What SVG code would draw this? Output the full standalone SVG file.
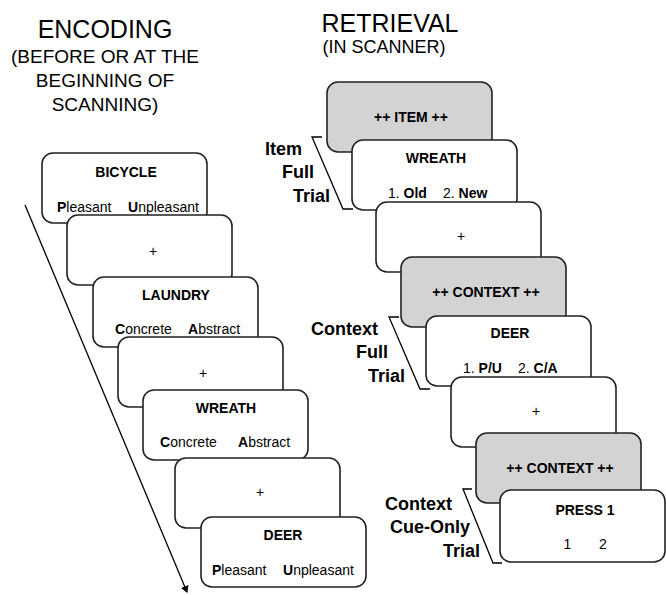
<svg xmlns="http://www.w3.org/2000/svg" width="666" height="595" viewBox="0 0 666 595">
<style>
text{font-family:"Liberation Sans",Arial,sans-serif;fill:#000}
.card{fill:#fff;stroke:#222;stroke-width:1.6}
.gray{fill:#d3d3d3;stroke:#222;stroke-width:1.6}
.t{font-size:14px;font-weight:bold;text-anchor:middle}
.o{font-size:14px}
.b{font-weight:bold}
.plus{font-size:14px;text-anchor:middle}
.h1{font-size:25px;text-anchor:middle}
.h2{font-size:19px;text-anchor:middle}
.lab{font-size:18px;font-weight:bold;text-anchor:end}
.br{fill:none;stroke:#000;stroke-width:1.3}
</style>
<defs>
<marker id="ah" markerWidth="8" markerHeight="8" refX="6" refY="4" orient="auto" markerUnits="userSpaceOnUse">
<path d="M0,0 L7,4 L0,8 z" fill="#000"/>
</marker>
</defs>

<g id="titles">
<text class="h1" x="105" y="38">ENCODING</text>
<text class="h2" x="105" y="63">(BEFORE OR AT THE</text>
<text class="h2" x="105" y="87">BEGINNING OF</text>
<text class="h2" x="105" y="111">SCANNING)</text>
<text class="h1" x="390" y="32">RETRIEVAL</text>
<text class="h2" x="384" y="53" style="font-size:18px">(IN SCANNER)</text>
</g>

<g id="connectors">
<line x1="25" y1="205" x2="187" y2="592" stroke="#000" stroke-width="1.3" marker-end="url(#ah)"/>
<polyline class="br" points="322,137 312,137 343,209 353,209"/>
<polyline class="br" points="399,317 389,317 420,389 430,389"/>
<polyline class="br" points="472,489 463,489 493,563 502,563"/>
</g>

<g id="labels">
<text class="lab" x="302" y="155">Item</text>
<text class="lab" x="314" y="178">Full</text>
<text class="lab" x="330" y="202">Trial</text>
<text class="lab" x="378" y="335">Context</text>
<text class="lab" x="388" y="358">Full</text>
<text class="lab" x="405" y="382">Trial</text>
<text class="lab" x="452" y="510">Context</text>
<text class="lab" x="470" y="533">Cue-Only</text>
<text class="lab" x="480" y="557">Trial</text>
</g>

<g id="enc-bicycle">
<rect class="card" x="42" y="153" width="165" height="70" rx="11"/>
<text class="t" x="126" y="177">BICYCLE</text>
<text class="o" x="57" y="212"><tspan class="b">P</tspan>leasant</text>
<text class="o" x="128" y="212"><tspan class="b">U</tspan>npleasant</text>
</g>
<g id="enc-fix1">
<rect class="card" x="67" y="215" width="165" height="70" rx="11"/>
<text class="plus" x="153" y="256">+</text>
</g>
<g id="enc-laundry">
<rect class="card" x="93" y="277" width="165" height="70" rx="11"/>
<text class="t" x="176" y="300">LAUNDRY</text>
<text class="o" x="115" y="334"><tspan class="b">C</tspan>oncrete</text>
<text class="o" x="188" y="334"><tspan class="b">A</tspan>bstract</text>
</g>
<g id="enc-fix2">
<rect class="card" x="118" y="337" width="165" height="70" rx="11"/>
<text class="plus" x="203" y="378">+</text>
</g>
<g id="enc-wreath">
<rect class="card" x="143" y="390" width="165" height="70" rx="11"/>
<text class="t" x="226" y="413">WREATH</text>
<text class="o" x="160" y="447"><tspan class="b">C</tspan>oncrete</text>
<text class="o" x="238" y="447"><tspan class="b">A</tspan>bstract</text>
</g>
<g id="enc-fix3">
<rect class="card" x="175" y="458" width="165" height="70" rx="11"/>
<text class="plus" x="260" y="497">+</text>
</g>
<g id="enc-deer">
<rect class="card" x="201" y="517" width="165" height="70" rx="11"/>
<text class="t" x="283" y="540">DEER</text>
<text class="o" x="212" y="575"><tspan class="b">P</tspan>leasant</text>
<text class="o" x="283" y="575"><tspan class="b">U</tspan>npleasant</text>
</g>

<g id="ret-item-cue">
<rect class="gray" x="327" y="82" width="165" height="70" rx="11"/>
<text class="t" x="411" y="122">++ ITEM ++</text>
</g>
<g id="ret-wreath">
<rect class="card" x="352" y="140" width="165" height="70" rx="11"/>
<text class="t" x="436" y="163">WREATH</text>
<text class="o" x="388" y="198">1. <tspan class="b">Old</tspan></text>
<text class="o" x="443" y="198">2. <tspan class="b">New</tspan></text>
</g>
<g id="ret-fix1">
<rect class="card" x="376" y="202" width="165" height="70" rx="11"/>
<text class="plus" x="461" y="241">+</text>
</g>
<g id="ret-context-cue1">
<rect class="gray" x="401" y="257" width="165" height="70" rx="11"/>
<text class="t" x="486" y="297">++ CONTEXT ++</text>
</g>
<g id="ret-deer">
<rect class="card" x="426" y="316" width="165" height="70" rx="11"/>
<text class="t" x="510" y="338">DEER</text>
<text class="o" x="463" y="373">1. <tspan class="b">P/U</tspan></text>
<text class="o" x="518" y="373">2. <tspan class="b">C/A</tspan></text>
</g>
<g id="ret-fix2">
<rect class="card" x="451" y="377" width="165" height="70" rx="11"/>
<text class="plus" x="536" y="416">+</text>
</g>
<g id="ret-context-cue2">
<rect class="gray" x="476" y="433" width="165" height="70" rx="11"/>
<text class="t" x="560" y="473">++ CONTEXT ++</text>
</g>
<g id="ret-press">
<rect class="card" x="500" y="490" width="165" height="72" rx="11"/>
<text class="t" x="585" y="515">PRESS 1</text>
<text class="plus" x="567.5" y="549">1</text>
<text class="plus" x="603" y="549">2</text>
</g>
</svg>
